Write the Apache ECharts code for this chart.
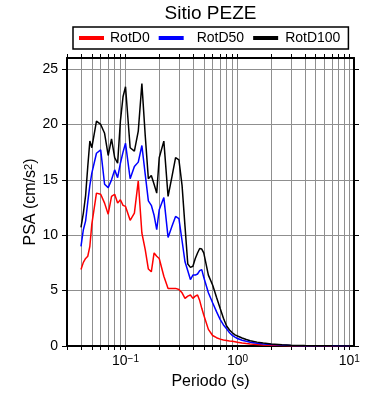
<!DOCTYPE html>
<html>
<head>
<meta charset="utf-8">
<title>Sitio PEZE</title>
<script src="https://cdn.jsdelivr.net/npm/echarts@6.0.0/dist/echarts.min.js"></script>
<style>
    html, body {
        margin: 0;
        padding: 0;
        background: #fff;
    }

    #chart {
        width: 390px;
        height: 400px;
    }
</style>
</head>
<body>
<div id="chart"></div>
<script>
// periodos (s) y espectros de respuesta
const periods = [0.04, 0.042, 0.044, 0.046, 0.048, 0.05, 0.055, 0.06, 0.065, 0.07,
    0.075, 0.08, 0.085, 0.09, 0.095, 0.1, 0.11, 0.12, 0.13, 0.14,
    0.15, 0.16, 0.17, 0.18, 0.19, 0.2, 0.22, 0.24, 0.26, 0.28,
    0.3, 0.32, 0.34, 0.36, 0.38, 0.4, 0.42, 0.44, 0.46, 0.48,
    0.5, 0.55, 0.6, 0.65, 0.7, 0.75, 0.8, 0.85, 0.9, 0.95,
    1.0, 1.1, 1.2, 1.3, 1.5, 1.7, 2.0, 2.5, 3, 4,
    5, 7, 10]

const rotD0 = [6.9, 7.55, 7.9, 8.1, 9.0, 11.0, 13.8, 13.7, 12.9, 11.9,
    13.5, 13.7, 12.9, 13.2, 12.7, 12.6, 11.35, 12.0, 14.9, 10.2,
    8.7, 6.95, 6.7, 8.4, 8.1, 7.9, 6.3, 5.2, 5.2, 5.2,
    5.1, 4.8, 4.3, 4.5, 4.6, 4.3, 4.5, 4.6, 4.1, 3.4,
    2.8, 1.5, 0.95, 0.75, 0.62, 0.55, 0.5, 0.45, 0.42, 0.38,
    0.33, 0.27, 0.22, 0.18, 0.13, 0.1, 0.07, 0.05, 0.03, 0.02,
    0.015, 0.01, 0.006]

const rotD50 = [9.0, 10.5, 11.3, 13.0, 14.5, 15.6, 17.4, 17.7, 14.6, 14.3,
    15.0, 15.9, 15.2, 16.5, 17.5, 18.3, 15.1, 16.2, 16.6, 18.1,
    15.5, 13.1, 12.7, 11.8, 10.5, 12.3, 13.4, 9.8, 10.8, 11.7,
    11.5, 9.5, 7.6, 6.8, 6.0, 6.4, 6.4, 6.5, 6.8, 6.9,
    6.2, 4.8, 3.9, 3.1, 2.4, 1.9, 1.55, 1.2, 0.95, 0.8,
    0.68, 0.52, 0.42, 0.34, 0.25, 0.19, 0.13, 0.08, 0.05, 0.03,
    0.02, 0.012, 0.008]

const rotD100 = [10.7, 12.0, 13.6, 16.2, 18.5, 17.9, 20.3, 20.0, 19.2, 17.2,
    18.7, 17.0, 16.5, 20.3, 22.5, 23.4, 17.9, 17.6, 19.4, 23.7,
    19.0, 15.1, 15.4, 14.6, 13.8, 17.0, 18.5, 13.5, 15.3, 17.0,
    16.8, 14.5, 10.8, 7.4, 7.1, 7.2, 7.9, 8.4, 8.8, 8.75,
    8.4, 6.4, 5.5, 4.4, 3.4, 2.5, 1.8, 1.45, 1.2, 1.0,
    0.9, 0.72, 0.58, 0.48, 0.35, 0.27, 0.18, 0.11, 0.07, 0.04,
    0.03, 0.02, 0.01]

const seriesNames = ['RotD0', 'RotD50', 'RotD100']
const seriesColors = ['#ff0000', '#0000ff', '#000000']

// marcas del eje x (log) y del eje y
const xTicks = [0.03, 0.04, 0.05, 0.06, 0.07, 0.08, 0.09,
    0.1, 0.2, 0.3, 0.4, 0.5, 0.6, 0.7, 0.8, 0.9,
    1, 2, 3, 4, 5, 6, 7, 8, 9, 10]
const xLabels = [0.1, 1, 10]
const yTicks = [0, 5, 10, 15, 20, 25]

const font = 'Liberation Sans, Arial, Helvetica, sans-serif'
const gridColor = '#8f8f8f'
// separacion extra entre simbolo y texto de la leyenda
const legendTextPad = [1, 8, 2]

function pairs(values) {
    return periods.map((t, i) => [t, values[i]])
}

function powerLabel(value) {
    const exp = Math.round(Math.log10(value))
    return '10{s|' + (exp < 0 ? '\u2212' + (-exp) : exp) + '}'
}

function getXAxis(pos) {
    const bottom = pos === 'bottom'
    return {
        type: 'log',
        logBase: 10,
        position: pos,
        min: 0.03,
        max: 11,
        axisLine: {show: true, onZero: false, lineStyle: {color: '#000', width: 2}},
        axisTick: {show: true, inside: false, length: 4, customValues: xTicks, lineStyle: {color: '#000', width: 1}},
        splitLine: {show: bottom, lineStyle: {color: gridColor, width: 1}},
        minorTick: {show: false},
        minorSplitLine: {show: false},
        axisLabel: {
            show: bottom,
            customValues: xLabels,
            margin: 8,
            color: '#000',
            fontFamily: font,
            fontSize: 14,
            formatter: powerLabel,
            rich: {
                s: {fontSize: 10, fontFamily: font, color: '#000', verticalAlign: 'top'}
            }
        },
        name: bottom ? 'Periodo (s)' : '',
        nameLocation: 'middle',
        nameGap: 28,
        nameMoveOverlap: false,
        nameTextStyle: {color: '#000', fontFamily: font, fontSize: 16}
    }
}

function getYAxis(pos) {
    const left = pos === 'left'
    return {
        type: 'value',
        position: pos,
        min: 0,
        max: 26,
        axisLine: {show: true, onZero: false, lineStyle: {color: '#000', width: 2}},
        axisTick: {show: true, inside: false, length: 5, customValues: yTicks, lineStyle: {color: '#000', width: 1}},
        splitLine: {show: left, lineStyle: {color: gridColor, width: 1}},
        axisLabel: {
            show: left,
            customValues: yTicks,
            margin: 9,
            color: '#000',
            fontFamily: font,
            fontSize: 14
        },
        name: left ? 'PSA (cm/s{s|2})' : '',
        nameLocation: 'middle',
        nameRotate: 90,
        nameGap: 28,
        nameMoveOverlap: false,
        nameTextStyle: {
            color: '#000', fontFamily: font, fontSize: 16,
            rich: {
                s: {fontSize: 11, fontFamily: font, color: '#000', verticalAlign: 'top'}
            }
        }
    }
}

const chart = echarts.init(document.getElementById('chart'), null, {renderer: 'canvas'})

const option = {
    animation: false,
    backgroundColor: '#fff',
    title: {
        text: 'Sitio PEZE',
        left: 210.5,
        top: 4,
        padding: 0,
        textAlign: 'center',
        textStyle: {color: '#000', fontFamily: font, fontSize: 19, fontWeight: 'normal'}
    },
    legend: {
        data: seriesNames.map((name, i) => {
            return {
                name: name,
                textStyle: {padding: [0, 0, 0, legendTextPad[i]]}
            }
        }),
        left: 73,
        top: 27,
        orient: 'horizontal',
        icon: 'rect',
        itemWidth: 25,
        itemHeight: 4,
        itemGap: 9,
        padding: [4, 8, 4, 6],
        borderColor: '#000',
        borderWidth: 1.5,
        borderRadius: 0,
        backgroundColor: '#fff',
        textStyle: {color: '#000', fontFamily: font, fontSize: 14}
    },
    grid: {
        left: 67,
        right: 36,
        top: 58,
        bottom: 54,
        containLabel: false
    },
    xAxis: [getXAxis('bottom'), getXAxis('top')],
    yAxis: [getYAxis('left'), getYAxis('right')],
    series: seriesNames.map((name, i) => {
        return {
            name: name,
            type: 'line',
            xAxisIndex: 0,
            yAxisIndex: 0,
            showSymbol: false,
            symbol: 'none',
            smooth: false,
            clip: true,
            color: seriesColors[i],
            lineStyle: {color: seriesColors[i], width: 1.5},
            data: pairs([rotD0, rotD50, rotD100][i])
        }
    })
}

chart.setOption(option)
</script>
</body>
</html>
